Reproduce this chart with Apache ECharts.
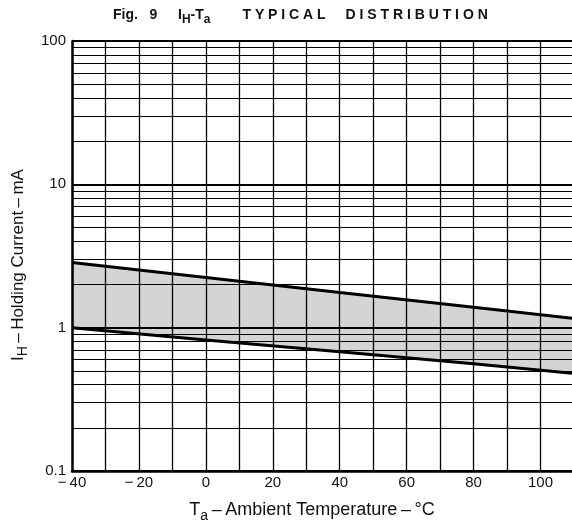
<!DOCTYPE html>
<html><head><meta charset="utf-8">
<script src="https://cdn.jsdelivr.net/npm/echarts@6/dist/echarts.min.js"></script>
<style>html,body{margin:0;padding:0;background:#fff}#c{width:572px;height:525px}</style>
</head><body><div id="c"></div>
<script>
// Data
const temps   = [-40, 0, 40, 80, 110];
const upperIH = [2.85, 2.24, 1.76, 1.39, 1.16];
const lowerIH = [1.0, 0.82, 0.68, 0.56, 0.48];
const xTickLabels = [-40, -20, 0, 20, 40, 60, 80, 100];
const yTickLabels = [0.1, 1, 10, 100];
const minorYLines = [0.2,0.3,0.4,0.5,0.6,0.7,0.8,0.9, 2,3,4,5,6,7,8,9, 20,30,40,50,60,70,80,90];

const FONT = 'Liberation Sans';
const chart = echarts.init(document.getElementById('c'), null, {renderer:'canvas'});

const bandPoints = temps.map((t,i)=>[t, upperIH[i], lowerIH[i]]);
const DASH = '\u2009\u2013\u2009';
const tBase = {fontFamily:FONT, fontSize:14, fontWeight:'bold', color:'#111', verticalAlign:'bottom', lineHeight:20};

chart.setOption({
  animation:false,
  backgroundColor:'#fff',
  title:{
    left:113, top:-3, padding:[5,0,5,0],
    text:'{f|Fig.   9}{i|I}{s|H}{i|-T}{s|a}{sp| }{t|T Y P I C A L}{d|D I S T R I B U T I O N}',
    textStyle:{
      rich:{
        f:Object.assign({}, tBase, {width:65}),
        i:Object.assign({}, tBase),
        s:Object.assign({}, tBase, {fontSize:12, padding:[0,0,-4,0]}),
        sp:Object.assign({}, tBase, {width:32}),
        t:Object.assign({}, tBase, {width:103}),
        d:Object.assign({}, tBase)
      }
    }
  },
  grid:{left:72, width:502, top:41, bottom:54, containLabel:false, outerBoundsMode:'none'},
  xAxis:{
    type:'value', min:-40, max:110, interval:10,
    axisLine:{show:true, onZero:false, lineStyle:{color:'#000', width:2.5}},
    axisTick:{show:false},
    splitLine:{show:true, lineStyle:{color:'#000', width:1.3}},
    axisLabel:{
      fontFamily:FONT, fontSize:15, color:'#111', margin:4,
      formatter:v=> xTickLabels.indexOf(v)>=0 ? (v<0 ? '\u2212\u2009' + Math.abs(v) : String(v)) : ''
    },
    name:'{a|T}{s|a}{a|' + DASH + 'Ambient Temperature' + DASH + '\u00b0C}',
    nameLocation:'middle', nameGap:28,
    nameTextStyle:{
      padding:[0,22,0,0],
      rich:{
        a:{fontFamily:FONT, fontSize:18, color:'#111', verticalAlign:'bottom', lineHeight:20},
        s:{fontFamily:FONT, fontSize:14, color:'#111', verticalAlign:'bottom', lineHeight:20, padding:[0,0,-4,0]}
      }
    }
  },
  yAxis:{
    type:'log', logBase:10, min:0.1, max:100,
    axisLine:{show:true, onZero:false, lineStyle:{color:'#000', width:2.5}},
    axisTick:{show:false},
    splitLine:{show:true, lineStyle:{color:'#000', width:2}},
    minorSplitLine:{show:false},
    axisLabel:{
      fontFamily:FONT, fontSize:15, color:'#111', margin:6,
      formatter:v=>{ const r = yTickLabels.find(t=>Math.abs(t-v)/t<1e-6); return r===undefined ? '' : String(r); }
    },
    name:'{a|I}{s|H}{a|' + DASH + 'Holding Current' + DASH + 'mA}',
    nameLocation:'middle', nameRotate:90, nameGap:44,
    nameTextStyle:{
      padding:[0,18,0,0],
      rich:{
        a:{fontFamily:FONT, fontSize:17, color:'#111', verticalAlign:'bottom', lineHeight:20},
        s:{fontFamily:FONT, fontSize:14, color:'#111', verticalAlign:'bottom', lineHeight:20, padding:[0,0,-3,0]}
      }
    }
  },
  series:[
    {
      type:'custom', z:1, clip:true, silent:true,
      data:bandPoints,
      renderItem:(params, api)=>{
        if(params.dataIndex!==0) return null;
        const pts=[];
        for(let i=0;i<bandPoints.length;i++) pts.push(api.coord([bandPoints[i][0], bandPoints[i][1]]));
        for(let i=bandPoints.length-1;i>=0;i--) pts.push(api.coord([bandPoints[i][0], bandPoints[i][2]]));
        return {type:'polygon', shape:{points:pts}, style:{fill:'rgba(0,0,0,0.17)'}};
      }
    },
    {
      type:'line', z:3, symbol:'none', silent:true,
      data:temps.map((t,i)=>[t, upperIH[i]]),
      lineStyle:{color:'#000', width:3},
      markLine:{
        silent:true, symbol:'none', label:{show:false},
        lineStyle:{color:'#000', width:1.2, type:'solid'},
        data:minorYLines.map(v=>({yAxis:v}))
      }
    },
    {
      type:'line', z:3, symbol:'none', silent:true,
      data:temps.map((t,i)=>[t, lowerIH[i]]),
      lineStyle:{color:'#000', width:3}
    }
  ]
});
</script>
</body></html>
